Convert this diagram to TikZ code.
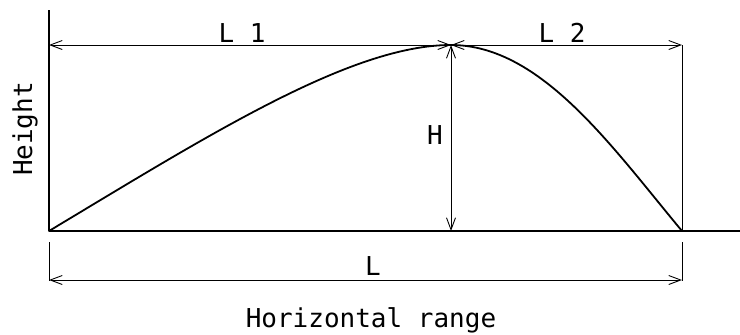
\documentclass[tikz,border=0pt]{standalone}
\usepackage{fontspec}
\newfontfamily\labelfont{DejaVu Sans Mono}
\usetikzlibrary{arrows.meta}
\begin{document}
\begin{tikzpicture}[x=1pt,y=-1pt,
  lbl/.style={font=\labelfont\fontsize{26}{26}\selectfont, inner sep=0pt, anchor=base},
  dimline/.style={line width=0.9pt, {Straight Barb[length=12pt,width=9pt]}-{Straight Barb[length=12pt,width=9pt]}},
  heavy/.style={line width=1.8pt, line join=round},
  extline/.style={line width=0.9pt}]
\useasboundingbox (0,0) rectangle (740,335);
% key points
\coordinate (O) at (49,231);
\coordinate (Ytop) at (49,10);
\coordinate (Gend) at (740,231);
\coordinate (P) at (451,45);
\coordinate (E) at (682,231);
\coordinate (TL) at (49,45);
\coordinate (TR) at (682,45);
\coordinate (Pb) at (451,231);
\coordinate (LL1) at (49,242);
\coordinate (LL2) at (49,281);
\coordinate (LR1) at (682,242);
\coordinate (LR2) at (682,281);
\coordinate (AL) at (49,280);
\coordinate (AR) at (682,280);
% axes and trajectory
\draw[heavy] (Ytop) -- (O) -- (Gend);
\draw[heavy] (O) .. controls (209,135) and (351,45) .. (P)
             .. controls (541,45) and (612,147) .. (E);
% dimensions
\draw[dimline] (TL) -- (P);
\draw[dimline] (P) -- (TR);
\draw[dimline] (P) -- (Pb);
\draw[extline] (TR) -- (E);
\draw[extline] (LL1) -- (LL2);
\draw[extline] (LR1) -- (LR2);
\draw[dimline] (AL) -- (AR);
% labels
\node[lbl] (l1) at (242,42) {L 1};
\node[lbl] (l2) at (562,42) {L 2};
\node[lbl] (h) at (435,144) {H};
\node[lbl] (l) at (373,275) {L};
\node[lbl] (hr) at (371,327) {Horizontal range};
\node[lbl, rotate=90] (ht) at (32,129) {Height};
\end{tikzpicture}
\end{document}
